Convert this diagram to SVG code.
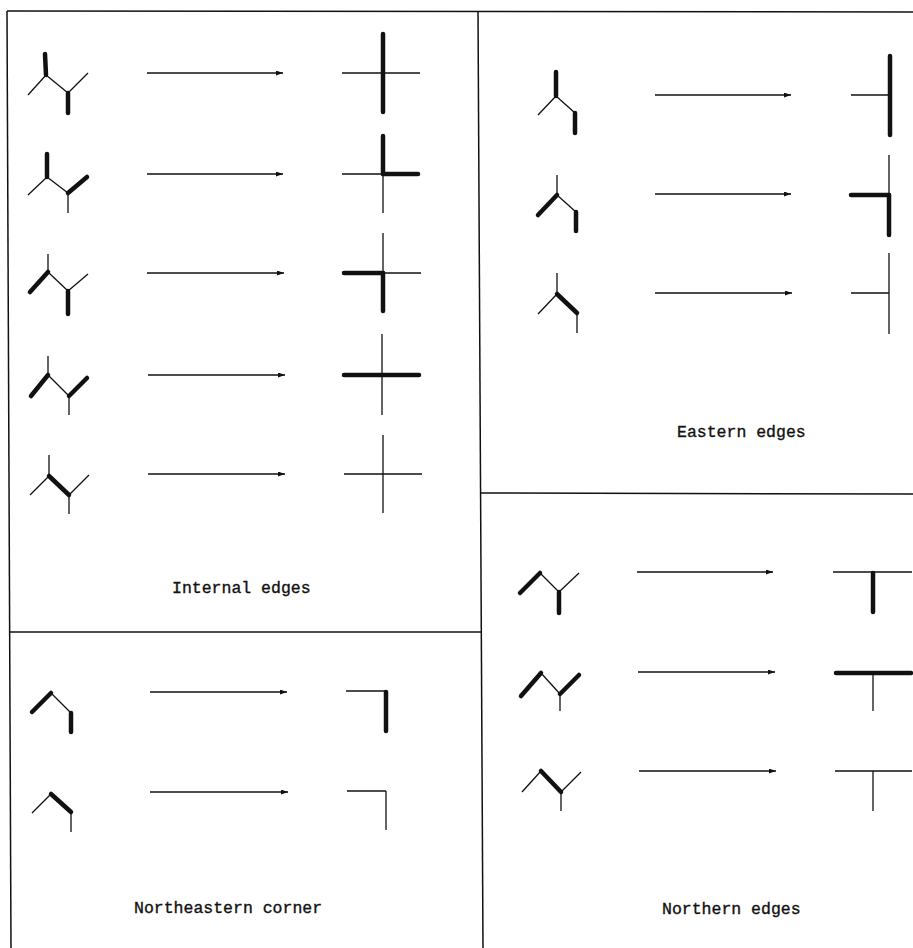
<svg xmlns="http://www.w3.org/2000/svg" width="913" height="948" viewBox="0 0 913 948">
<style>
.fr{stroke:#111;stroke-width:1.5;fill:none}
.t{stroke:#111;stroke-width:1.3;fill:none;stroke-linecap:butt}
.k{stroke:#111;stroke-width:4.5;fill:none;stroke-linecap:round}
.a{stroke:#111;stroke-width:1.3;fill:none}
.lb{font-family:"Liberation Mono","DejaVu Sans Mono",monospace;font-size:16.5px;fill:#111;stroke:#111;stroke-width:0.35}
</style>
<defs>
<marker id="ah" markerUnits="userSpaceOnUse" markerWidth="8" markerHeight="6" refX="7" refY="2.5" orient="auto">
<path d="M0,0 L7,2.5 L0,5 z" fill="#111"/>
</marker>
</defs>
<rect width="913" height="948" fill="#fff"/>
<g id="frame">
<line class="fr" x1="7" y1="11" x2="913" y2="12"/>
<line class="fr" x1="7" y1="11" x2="11" y2="948"/>
<line class="fr" x1="478" y1="11" x2="483" y2="948"/>
<line class="fr" x1="9" y1="632" x2="481" y2="632"/>
<line class="fr" x1="480" y1="493" x2="913" y2="494"/>
</g>
<g id="connectors">
<line class="a" marker-end="url(#ah)" x1="147" y1="73" x2="283" y2="73"/>
<line class="a" marker-end="url(#ah)" x1="147" y1="174" x2="283" y2="174"/>
<line class="a" marker-end="url(#ah)" x1="147" y1="273" x2="284" y2="273"/>
<line class="a" marker-end="url(#ah)" x1="148" y1="375" x2="285" y2="375"/>
<line class="a" marker-end="url(#ah)" x1="148" y1="474" x2="285" y2="474"/>
<line class="a" marker-end="url(#ah)" x1="655" y1="95" x2="791" y2="95"/>
<line class="a" marker-end="url(#ah)" x1="655" y1="194" x2="791" y2="194"/>
<line class="a" marker-end="url(#ah)" x1="655" y1="293" x2="792" y2="293"/>
<line class="a" marker-end="url(#ah)" x1="150" y1="692" x2="287" y2="692"/>
<line class="a" marker-end="url(#ah)" x1="150" y1="792" x2="288" y2="792"/>
<line class="a" marker-end="url(#ah)" x1="637" y1="572" x2="773" y2="572"/>
<line class="a" marker-end="url(#ah)" x1="638" y1="672" x2="775" y2="672"/>
<line class="a" marker-end="url(#ah)" x1="639" y1="771" x2="776" y2="771"/>
</g>
<!-- Internal edges -->
<g id="int1-src">
<line class="t" x1="46" y1="75" x2="28" y2="95"/><line class="t" x1="46" y1="75" x2="68" y2="93"/><line class="t" x1="68" y1="93" x2="88" y2="73"/>
<line class="k" x1="45" y1="54" x2="46" y2="75"/><line class="k" x1="68" y1="93" x2="68" y2="113"/>
</g>
<g id="int1-dst">
<line class="t" x1="342" y1="73" x2="420" y2="73"/><line class="k" x1="383" y1="34" x2="383" y2="112"/>
</g>
<g id="int2-src">
<line class="t" x1="47" y1="177" x2="28" y2="195"/><line class="t" x1="47" y1="177" x2="68" y2="193"/><line class="t" x1="68" y1="193" x2="68" y2="213"/>
<line class="k" x1="47" y1="154" x2="47" y2="177"/><line class="k" x1="68" y1="193" x2="87" y2="177"/>
</g>
<g id="int2-dst">
<line class="t" x1="342" y1="174" x2="383" y2="174"/><line class="t" x1="383" y1="174" x2="383" y2="213"/>
<line class="k" x1="383" y1="136" x2="383" y2="174"/><line class="k" x1="383" y1="174" x2="418" y2="174"/>
</g>
<g id="int3-src">
<line class="t" x1="48" y1="254" x2="48" y2="272"/><line class="t" x1="48" y1="272" x2="68" y2="291"/><line class="t" x1="68" y1="291" x2="88" y2="274"/>
<line class="k" x1="48" y1="272" x2="30" y2="292"/><line class="k" x1="68" y1="291" x2="68" y2="314"/>
</g>
<g id="int3-dst">
<line class="t" x1="383" y1="273" x2="421" y2="273"/><line class="t" x1="383" y1="233" x2="383" y2="273"/>
<line class="k" x1="344" y1="273" x2="383" y2="273"/><line class="k" x1="383" y1="273" x2="383" y2="311"/>
</g>
<g id="int4-src">
<line class="t" x1="48" y1="356" x2="48" y2="375"/><line class="t" x1="48" y1="375" x2="69" y2="396"/><line class="t" x1="69" y1="396" x2="69" y2="415"/>
<line class="k" x1="48" y1="375" x2="31" y2="396"/><line class="k" x1="69" y1="396" x2="87" y2="378"/>
</g>
<g id="int4-dst">
<line class="t" x1="382" y1="334" x2="382" y2="415"/><line class="k" x1="344" y1="375" x2="419" y2="375"/>
</g>
<g id="int5-src">
<line class="t" x1="49" y1="455" x2="49" y2="476"/><line class="t" x1="49" y1="476" x2="30" y2="495"/><line class="t" x1="69" y1="495" x2="89" y2="475"/><line class="t" x1="69" y1="495" x2="69" y2="514"/>
<line class="k" x1="49" y1="476" x2="69" y2="495"/>
</g>
<g id="int5-dst">
<line class="t" x1="344" y1="474" x2="422" y2="474"/><line class="t" x1="383" y1="435" x2="383" y2="513"/>
</g>
<text class="lb" x="172" y="593">Internal edges</text>
<!-- Eastern edges -->
<g id="east1-src">
<line class="t" x1="556" y1="96" x2="538" y2="115"/><line class="t" x1="556" y1="96" x2="575" y2="113"/>
<line class="k" x1="556" y1="72" x2="556" y2="96"/><line class="k" x1="575" y1="113" x2="575" y2="133"/>
</g>
<g id="east1-dst">
<line class="t" x1="851" y1="95" x2="890" y2="95"/><line class="k" x1="890" y1="56" x2="890" y2="135"/>
</g>
<g id="east2-src">
<line class="t" x1="557" y1="175" x2="557" y2="195"/><line class="t" x1="557" y1="195" x2="576" y2="212"/>
<line class="k" x1="557" y1="195" x2="538" y2="215"/><line class="k" x1="576" y1="212" x2="576" y2="231"/>
</g>
<g id="east2-dst">
<line class="t" x1="889" y1="155" x2="889" y2="195"/>
<line class="k" x1="851" y1="195" x2="889" y2="195"/><line class="k" x1="889" y1="195" x2="889" y2="235"/>
</g>
<g id="east3-src">
<line class="t" x1="557" y1="273" x2="557" y2="294"/><line class="t" x1="557" y1="294" x2="538" y2="314"/><line class="t" x1="577" y1="313" x2="577" y2="333"/>
<line class="k" x1="557" y1="294" x2="577" y2="313"/>
</g>
<g id="east3-dst">
<line class="t" x1="851" y1="293" x2="889" y2="293"/><line class="t" x1="889" y1="253" x2="889" y2="334"/>
</g>
<text class="lb" x="677" y="437">Eastern edges</text>
<!-- Northeastern corner -->
<g id="ne1-src">
<line class="t" x1="51" y1="693" x2="71" y2="713"/>
<line class="k" x1="32" y1="712" x2="51" y2="693"/><line class="k" x1="71" y1="713" x2="71" y2="732"/>
</g>
<g id="ne1-dst">
<line class="t" x1="346" y1="691" x2="386" y2="691"/><line class="k" x1="386" y1="692" x2="386" y2="731"/>
</g>
<g id="ne2-src">
<line class="t" x1="32" y1="813" x2="51" y2="794"/><line class="t" x1="71" y1="812" x2="71" y2="832"/>
<line class="k" x1="51" y1="794" x2="71" y2="812"/>
</g>
<g id="ne2-dst">
<line class="t" x1="347" y1="791" x2="386" y2="791"/><line class="t" x1="386" y1="791" x2="386" y2="830"/>
</g>
<text class="lb" x="134" y="913">Northeastern corner</text>
<!-- Northern edges -->
<g id="north1-src">
<line class="t" x1="540" y1="573" x2="559" y2="592"/><line class="t" x1="559" y1="592" x2="579" y2="573"/>
<line class="k" x1="520" y1="593" x2="540" y2="573"/><line class="k" x1="559" y1="592" x2="559" y2="613"/>
</g>
<g id="north1-dst">
<line class="t" x1="833" y1="572" x2="912" y2="572"/><line class="k" x1="873" y1="573" x2="873" y2="612"/>
</g>
<g id="north2-src">
<line class="t" x1="541" y1="673" x2="560" y2="694"/><line class="t" x1="560" y1="694" x2="560" y2="711"/>
<line class="k" x1="521" y1="696" x2="541" y2="673"/><line class="k" x1="560" y1="694" x2="579" y2="675"/>
</g>
<g id="north2-dst">
<line class="t" x1="873" y1="673" x2="873" y2="711"/><line class="k" x1="836" y1="673" x2="911" y2="673"/>
</g>
<g id="north3-src">
<line class="t" x1="522" y1="792" x2="541" y2="771"/><line class="t" x1="561" y1="792" x2="581" y2="772"/><line class="t" x1="561" y1="792" x2="561" y2="811"/>
<line class="k" x1="541" y1="771" x2="561" y2="792"/>
</g>
<g id="north3-dst">
<line class="t" x1="835" y1="771" x2="912" y2="771"/><line class="t" x1="873" y1="771" x2="873" y2="811"/>
</g>
<text class="lb" x="662" y="914">Northern edges</text>
</svg>
